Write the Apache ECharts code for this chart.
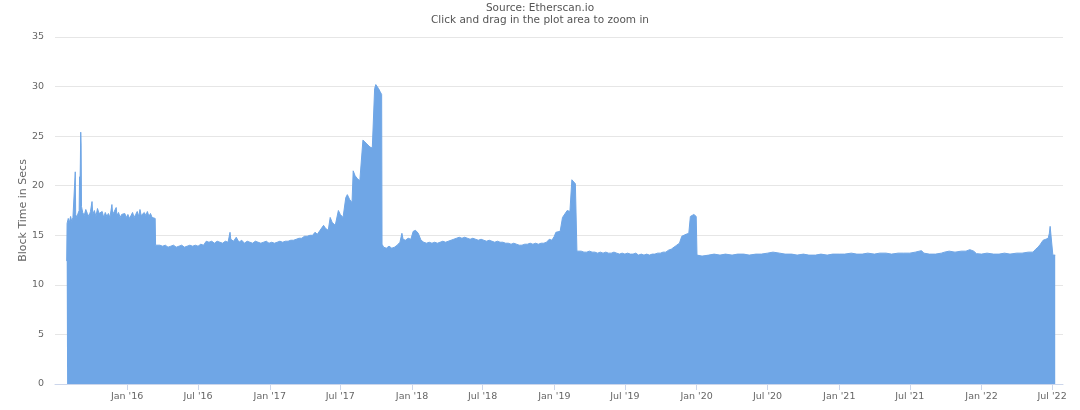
<!DOCTYPE html>
<html>
<head>
<meta charset="utf-8">
<script src="https://cdn.jsdelivr.net/npm/echarts@6/dist/echarts.min.js"></script>
<style>
html,body{margin:0;padding:0;background:#fff;}
#chart{width:1080px;height:410px;}
</style>
</head>
<body>
<div id="chart"></div>
<script>
// ---- Data (daily avg block time in seconds) ----
const frontierDates = ['2015-07-30','2015-07-31','2015-08-03','2015-08-06','2015-08-09','2015-08-12','2015-08-15','2015-08-18','2015-08-20','2015-08-21','2015-08-22','2015-08-25','2015-08-28','2015-08-31','2015-09-01','2015-09-02','2015-09-03','2015-09-04','2015-09-05','2015-09-06','2015-09-09','2015-09-13','2015-09-17','2015-09-21','2015-09-25','2015-09-29','2015-10-03','2015-10-05','2015-10-09','2015-10-13','2015-10-17','2015-10-21','2015-10-25','2015-10-29','2015-11-02','2015-11-06','2015-11-10','2015-11-14','2015-11-18','2015-11-23','2015-11-25','2015-11-29','2015-12-04','2015-12-06','2015-12-10','2015-12-14','2015-12-18','2015-12-22','2015-12-26','2015-12-30','2016-01-03','2016-01-07','2016-01-11','2016-01-15','2016-01-19','2016-01-23','2016-01-27','2016-01-31','2016-02-03','2016-02-06','2016-02-10','2016-02-14','2016-02-18','2016-02-22','2016-02-26','2016-03-01','2016-03-05','2016-03-09','2016-03-13'];
const frontierValues = [12.4,16.2,16.7,16.3,16.9,16.4,16.8,16.6,17.0,21.4,17.1,16.8,17.2,17.5,20.9,19.6,22.2,25.4,24.1,17.9,17.3,17.0,17.6,17.2,16.9,17.4,18.4,17.1,17.5,16.9,17.7,17.2,17.0,17.4,16.8,17.3,16.9,17.2,16.8,18.1,17.1,17.4,17.8,17.0,17.3,16.8,17.1,16.9,17.2,16.8,17.1,16.7,17.0,17.3,16.8,17.1,17.4,16.9,17.6,17.0,16.8,17.3,17.0,17.4,16.9,17.2,16.8,17.0,16.7];

const homesteadDates = ['2016-03-14','2016-03-18','2016-03-25','2016-04-01','2016-04-08','2016-04-15','2016-04-22','2016-04-29','2016-05-06','2016-05-13','2016-05-20','2016-05-27','2016-06-03','2016-06-10','2016-06-17','2016-06-24','2016-07-01','2016-07-08','2016-07-15','2016-07-22','2016-07-29','2016-08-05','2016-08-12','2016-08-19','2016-08-26','2016-09-02','2016-09-09','2016-09-16','2016-09-21','2016-09-23','2016-09-30','2016-10-07','2016-10-14','2016-10-21','2016-10-28','2016-11-04','2016-11-11','2016-11-18','2016-11-25','2016-12-02','2016-12-09','2016-12-16','2016-12-23','2016-12-30','2017-01-06','2017-01-13','2017-01-20','2017-01-27','2017-02-03','2017-02-10','2017-02-17','2017-02-24','2017-03-03','2017-03-10','2017-03-17','2017-03-24','2017-03-31','2017-04-07','2017-04-14','2017-04-21','2017-04-27','2017-05-03','2017-05-10','2017-05-14','2017-05-19','2017-05-24','2017-05-31','2017-06-05','2017-06-10','2017-06-18','2017-06-26','2017-07-01','2017-07-08','2017-07-15','2017-07-19','2017-07-25','2017-07-31','2017-08-03','2017-08-08','2017-08-14','2017-08-20','2017-08-28','2017-08-31','2017-09-05','2017-09-10','2017-09-15','2017-09-21','2017-09-27','2017-09-30','2017-10-03','2017-10-07','2017-10-11','2017-10-15'];
const homesteadValues = [14.0,13.8,14.0,13.9,14.0,13.8,13.9,14.0,13.8,13.9,14.0,13.8,13.9,14.0,13.9,14.0,13.9,14.1,14.0,14.4,14.3,14.4,14.2,14.4,14.3,14.2,14.4,14.3,15.3,14.6,14.4,14.8,14.3,14.5,14.2,14.4,14.3,14.2,14.4,14.3,14.2,14.3,14.4,14.2,14.3,14.2,14.3,14.4,14.3,14.4,14.4,14.5,14.5,14.6,14.7,14.7,14.9,14.9,15.0,15.0,15.3,15.1,15.5,15.3,16.0,15.7,15.5,16.8,16.3,16.0,17.5,17.1,16.8,18.8,19.1,18.6,18.3,21.5,21.0,20.7,20.5,24.6,24.8,24.3,24.1,23.9,23.8,29.8,30.2,30.0,29.8,29.5,29.2];

const byzantiumDates = ['2017-10-16','2017-10-20','2017-10-27','2017-11-03','2017-11-10','2017-11-17','2017-11-24','2017-12-01','2017-12-06','2017-12-09','2017-12-15','2017-12-22','2017-12-29','2018-01-04','2018-01-10','2018-01-17','2018-01-24','2018-01-31','2018-02-07','2018-02-14','2018-02-21','2018-02-28','2018-03-07','2018-03-14','2018-03-21','2018-03-28','2018-04-04','2018-04-11','2018-04-18','2018-04-25','2018-05-02','2018-05-09','2018-05-16','2018-05-23','2018-05-30','2018-06-06','2018-06-13','2018-06-20','2018-06-27','2018-07-04','2018-07-11','2018-07-18','2018-07-25','2018-08-01','2018-08-08','2018-08-15','2018-08-22','2018-08-29','2018-09-05','2018-09-12','2018-09-19','2018-09-26','2018-10-03','2018-10-10','2018-10-17','2018-10-24','2018-10-31','2018-11-07','2018-11-14','2018-11-21','2018-11-28','2018-12-05','2018-12-12','2018-12-19','2018-12-26','2019-01-01','2019-01-05','2019-01-10','2019-01-16','2019-01-22','2019-01-27','2019-02-03','2019-02-10','2019-02-15','2019-02-20','2019-02-24','2019-02-27'];
const byzantiumValues = [14.1,13.8,13.7,13.9,13.7,13.8,14.0,14.3,15.2,14.6,14.5,14.7,14.6,15.4,15.5,15.2,14.5,14.3,14.2,14.3,14.2,14.3,14.2,14.3,14.4,14.3,14.4,14.5,14.6,14.7,14.8,14.7,14.8,14.7,14.6,14.7,14.6,14.5,14.6,14.5,14.4,14.5,14.4,14.3,14.4,14.3,14.3,14.2,14.2,14.1,14.2,14.1,14.0,14.0,14.1,14.1,14.2,14.1,14.2,14.1,14.2,14.2,14.3,14.6,14.5,14.9,15.3,15.5,15.4,16.8,17.0,17.5,17.4,20.6,20.5,20.2,20.0];

const constantinopleDates = ['2019-02-28','2019-03-04','2019-03-11','2019-03-18','2019-03-25','2019-04-01','2019-04-08','2019-04-15','2019-04-22','2019-04-29','2019-05-06','2019-05-13','2019-05-20','2019-05-27','2019-06-03','2019-06-10','2019-06-17','2019-06-24','2019-07-01','2019-07-08','2019-07-15','2019-07-22','2019-07-29','2019-08-05','2019-08-12','2019-08-19','2019-08-26','2019-09-02','2019-09-09','2019-09-16','2019-09-23','2019-09-30','2019-10-07','2019-10-14','2019-10-21','2019-10-28','2019-11-04','2019-11-11','2019-11-18','2019-11-24','2019-11-28','2019-12-05','2019-12-12','2019-12-16','2019-12-20','2019-12-25','2019-12-31'];
const constantinopleValues = [13.4,13.3,13.4,13.3,13.3,13.4,13.3,13.3,13.2,13.3,13.2,13.3,13.2,13.2,13.3,13.2,13.1,13.2,13.1,13.2,13.1,13.1,13.2,13.0,13.1,13.0,13.1,13.0,13.1,13.1,13.2,13.2,13.3,13.3,13.5,13.6,13.8,14.0,14.2,14.9,15.0,15.1,15.2,16.9,17.0,17.1,16.9];

const muirDates = ['2020-01-02','2020-01-15','2020-02-01','2020-02-15','2020-03-01','2020-03-15','2020-04-01','2020-04-15','2020-05-01','2020-05-15','2020-06-01','2020-06-15','2020-07-01','2020-07-15','2020-08-01','2020-08-15','2020-09-01','2020-09-15','2020-10-01','2020-10-15','2020-11-01','2020-11-15','2020-12-01','2020-12-15','2021-01-01','2021-01-15','2021-02-01','2021-02-15','2021-03-01','2021-03-15','2021-04-01','2021-04-15','2021-05-01','2021-05-15','2021-06-01','2021-06-15','2021-07-01','2021-07-15','2021-07-31','2021-08-06','2021-08-20','2021-09-05','2021-09-20','2021-09-28','2021-10-10','2021-10-25','2021-11-10','2021-11-22','2021-12-02','2021-12-12','2021-12-19','2022-01-01','2022-01-15','2022-02-01','2022-02-15','2022-03-01','2022-03-15','2022-04-01','2022-04-15','2022-05-01','2022-05-13','2022-05-20','2022-05-26','2022-06-01','2022-06-08','2022-06-15','2022-06-21','2022-06-24','2022-06-26','2022-07-01','2022-07-03','2022-07-09'];
const muirValues = [13.0,12.9,13.0,13.1,13.0,13.1,13.0,13.1,13.1,13.0,13.1,13.1,13.2,13.3,13.2,13.1,13.1,13.0,13.1,13.0,13.0,13.1,13.0,13.1,13.1,13.1,13.2,13.1,13.1,13.2,13.1,13.2,13.2,13.1,13.2,13.2,13.2,13.3,13.45,13.2,13.1,13.1,13.2,13.3,13.4,13.3,13.4,13.4,13.55,13.4,13.15,13.1,13.2,13.1,13.1,13.2,13.1,13.2,13.2,13.3,13.3,13.6,13.8,14.1,14.5,14.6,14.7,15.2,15.9,15.8,13.0,13.0];

const yTicks = [0, 5, 10, 15, 20, 25, 30, 35];
const monthNames = ['Jan','Feb','Mar','Apr','May','Jun','Jul','Aug','Sep','Oct','Nov','Dec'];
const tickYears = [2016, 2017, 2018, 2019, 2020, 2021, 2022];
const axisStart = '2015-06-30';
const axisEnd = '2022-07-29';

// ---- Build series ----
function toTs(s) {
  const p = s.split('-').map(Number);
  return Date.UTC(p[0], p[1] - 1, p[2]);
}
const allDates = [].concat(frontierDates, homesteadDates, byzantiumDates, constantinopleDates, muirDates);
const allValues = [].concat(frontierValues, homesteadValues, byzantiumValues, constantinopleValues, muirValues);
const seriesData = allDates.map((d, i) => [toTs(d), allValues[i]]);

const tickValues = [];
tickYears.forEach(y => {
  tickValues.push(Date.UTC(y, 0, 1));
  tickValues.push(Date.UTC(y, 6, 1));
});

const chart = echarts.init(document.getElementById('chart'), null, {renderer: 'canvas'});
chart.setOption({
  animation: false,
  backgroundColor: '#ffffff',
  textStyle: {fontFamily: 'DejaVu Sans'},
  title: [
    {text: 'Source: Etherscan.io', left: 'center', top: 3, padding: 0,
     textStyle: {fontSize: 10.5, fontWeight: 'normal', color: '#555', fontFamily: 'DejaVu Sans'}},
    {text: 'Click and drag in the plot area to zoom in', left: 'center', top: 15, padding: 0,
     textStyle: {fontSize: 10.5, fontWeight: 'normal', color: '#555', fontFamily: 'DejaVu Sans'}}
  ],
  grid: {left: 55, right: 17, top: 37, bottom: 26, containLabel: false},
  xAxis: {
    type: 'value',
    min: toTs(axisStart),
    max: toTs(axisEnd),
    axisLine: {show: true, onZero: false, lineStyle: {color: '#ccd6eb'}},
    axisTick: {show: true, customValues: tickValues, length: 6, lineStyle: {color: '#ccd6eb'}},
    axisLabel: {
      customValues: tickValues,
      color: '#666', fontSize: 9.5, margin: 8, fontFamily: 'DejaVu Sans',
      formatter: function (v) {
        const d = new Date(v);
        return monthNames[d.getUTCMonth()] + " '" + String(d.getUTCFullYear()).slice(2);
      }
    },
    splitLine: {show: false}
  },
  yAxis: {
    type: 'value',
    min: yTicks[0], max: yTicks[yTicks.length - 1], interval: 5,
    name: 'Block Time in Secs',
    nameLocation: 'middle', nameGap: 26, nameRotate: 90, nameMoveOverlap: false,
    nameTextStyle: {color: '#666', fontSize: 11, fontFamily: 'DejaVu Sans'},
    axisLine: {show: false}, axisTick: {show: false},
    axisLabel: {color: '#666', fontSize: 9.5, margin: 11, fontFamily: 'DejaVu Sans'},
    splitLine: {lineStyle: {color: '#e6e6e6', width: 1}}
  },
  series: [{
    type: 'line',
    data: seriesData,
    symbol: 'none',
    sampling: 'none',
    lineStyle: {color: '#6fa6e6', width: 1},
    itemStyle: {color: '#6fa6e6'},
    areaStyle: {color: '#6fa6e6', opacity: 1}
  }]
});
</script>
</body>
</html>
